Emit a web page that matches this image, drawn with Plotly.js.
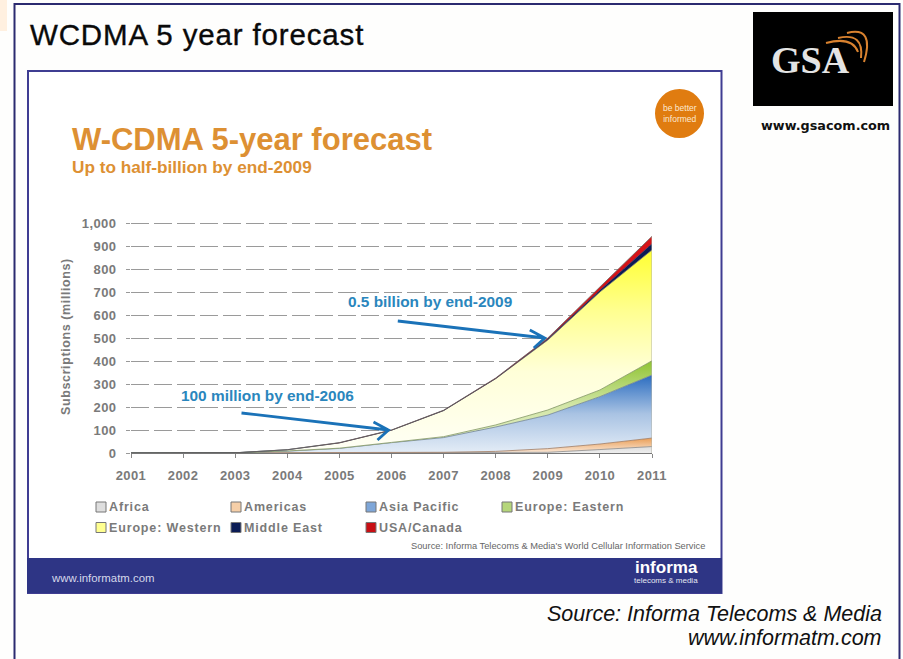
<!DOCTYPE html>
<html>
<head>
<meta charset="utf-8">
<script src="https://cdn.plot.ly/plotly-3.0.1.min.js"></script>
<style>
html,body{margin:0;padding:0;background:#fefefd;}
#chart{width:903px;height:659px;}
.xtick text,.ytick text{letter-spacing:.4px;}
.ytitle{letter-spacing:.6px;}
.gtitle{letter-spacing:.85px;stroke:#0a0a0a;stroke-width:.35px;}
</style>
</head>
<body>
<div id="chart"></div>
<script>
// Subscriptions in millions, per region, stacked bottom to top
const years = [2001,2002,2003,2004,2005,2006,2007,2008,2009,2010,2011];
const africa       = [0,0,0,0,0,0,0.5,1,3,15,28];
const americas     = [0,0,0,0.5,1,1.5,2.5,6,16,24,37];
const asiaPacific  = [0,0,1,7.5,19,43.5,64,106,146,206,274];
const europeEast   = [0,0,0,1,1,1,4,9,22,29,62];
const europeWest   = [0,0,0,5,23,53,113,201,304,426,482];
const middleEast   = [0,0,0,0,0,0,1,1,5,8,27];
const usaCanada    = [0,0,0,0.5,1,1,1,2,4,14,32];

const seriesNames = ['Africa','Americas','Asia Pacific','Europe: Eastern','Europe: Western','Middle East','USA/Canada'];
const seriesValues = [africa,americas,asiaPacific,europeEast,europeWest,middleEast,usaCanada];
const seriesTop = [30,70,340,410,885,910,945];
const gradientStops = [
  [[0,'#eeeeee'],[1,'#dcdcdc']],
  [[0,'#fbeadb'],[1,'#e8984c']],
  [[0,'#e4edf7'],[0.5,'#a9c3e3'],[1,'#2a6cc0']],
  [[0,'#e4f0c8'],[0.5,'#d3e6a8'],[1,'#8cc22c']],
  [[0,'#fffff6'],[0.4,'#ffffd8'],[0.7,'#ffff90'],[1,'#ffff30']],
  [[0,'#0b1c55'],[1,'#0b1c55']],
  [[0,'#c80f14'],[1,'#d81418']]
];
const swatchFill = ['#dedede','#f6cfa8','#7ea6d8','#b5d67a','#ffff90','#0b1c55','#c80f14'];
const outline = ['#8a8a8a','#a07a60','#6f8296','#7f9460','#77776a','#0b1c55','#6b6560'];

const tickYears = years;
const gridValues = [0,100,200,300,400,500,600,700,800,900,1000];

// Plot rectangle in page pixels; the value axis runs a little past 1,000 so its top gridline is kept
const W = 903, H = 659, L = 131, R = 652, T = 220, B = 453, yMax = (B - T) / 0.23;
const fx = p => (p - L) / (R - L);
const fy = p => (B - p) / (B - T);
const grandTotal = seriesValues.reduce((sum,v) => sum + v[v.length-1], 0);

const traces = seriesNames.map((name,i) => ({
  type:'scatter', mode:'lines', name, x:years, y:seriesValues[i], stackgroup:'regions',
  line:{color:outline[i], width:i===5?0.5:0.8, shape:'linear'},
  fillgradient:{type:'vertical', start:0, stop:seriesTop[i], colorscale:gradientStops[i]},
  hoverinfo:'skip', showlegend:false
}));

function rect(x0,y0,x1,y1,fill,lineColor,lineWidth){
  return {type:'rect', xref:'paper', yref:'paper', x0:fx(x0), x1:fx(x1), y0:fy(y0), y1:fy(y1),
    fillcolor:fill, line:{color:lineColor||fill, width:lineWidth===undefined?0:lineWidth}, layer:'below'};
}
function curve(x0,y0,cx,cy,x1,y1){
  return {type:'path', xref:'paper', yref:'paper',
    path:`M ${fx(x0)} ${fy(y0)} Q ${fx(cx)} ${fy(cy)} ${fx(x1)} ${fy(y1)}`,
    line:{color:'#d9822f', width:2}, layer:'above'};
}
function arrow(x,y,dx,dy){
  // arrow ending on a data point, sized in pixels from that point
  return {type:'path', xref:'x', yref:'y', xsizemode:'pixel', ysizemode:'pixel', xanchor:x, yanchor:y,
    path:`M ${dx} ${dy} L -3 0 M -18 8 L -3 0 L -14 -10`,
    line:{color:'#1a72b8', width:2.8}, layer:'above'};
}
function text(str,x,y,size,color,opts){
  return Object.assign({xref:'paper', yref:'paper', x:fx(x), y:fy(y), text:str, showarrow:false,
    xanchor:'left', yanchor:'middle', align:'left',
    font:{family:'"Liberation Sans", Arial, sans-serif', size, color}}, opts||{});
}
const bold = s => '<b>'+s+'</b>';

// Legend laid out as four columns, two rows
const legendCols = [96,231,366,502];
const legendRows = [507,527.5];
const legendShapes = [], legendText = [];
seriesNames.forEach((name,i) => {
  const cx = legendCols[i%4], cy = legendRows[Math.floor(i/4)];
  legendShapes.push(rect(cx,cy-5,cx+10,cy+5,swatchFill[i],'#777777',1));
  legendText.push(text(bold(name),cx+11,cy,12.5,'#7a7a7a'));
});

const layout = {
  width:W, height:H, margin:{l:L, r:W-R, t:T, b:H-B}, showlegend:false,
  paper_bgcolor:'#fefefd', plot_bgcolor:'rgba(0,0,0,0)',
  font:{family:'"Liberation Sans", Arial, sans-serif'},
  title:{text:'WCDMA 5 year forecast', xref:'container', yref:'container', x:30/W, xanchor:'left',
    y:1-35/H, yanchor:'middle', font:{size:29.5, color:'#0a0a0a', family:'"Liberation Sans", Arial, sans-serif'}},
  xaxis:{range:[2001,2011], tickvals:tickYears, ticks:'outside', ticklen:4, tickcolor:'#888', tickwidth:1,
    ticklabelstandoff:6, showgrid:false, zeroline:false, showline:true, linecolor:'#777', linewidth:1,
    tickfont:{size:13, color:'#7a7a7a', family:'"Liberation Sans", Arial, sans-serif', weight:'bold'}},
  yaxis:{range:[0,yMax], tickvals:gridValues, tickformat:',', ticks:'outside', ticklen:4, tickcolor:'#999', tickwidth:1,
    ticklabelstandoff:7, showgrid:true, gridcolor:'#9a9a9a', gridwidth:1, griddash:'18px,5px', zeroline:false, showline:false,
    tickfont:{size:13, color:'#7a7a7a', family:'"Liberation Sans", Arial, sans-serif', weight:'bold'},
    title:{text:'Subscriptions (millions)', standoff:8, font:{size:12.5, color:'#7a7a7a', weight:'bold'}}},
  shapes:[
    rect(0,0,7,31,'#fff0e0'),
    rect(14.5,4,899.5,H+6,'#fefefd','#2b2a70',2),
    rect(28,71,721.5,593,'#ffffff','#3f3d92',2),
    rect(27,558,722,593,'#2e3585'),
    rect(753,12,893,106,'#000000'),
    {type:'circle', xref:'paper', yref:'paper', x0:fx(655), x1:fx(704), y0:fy(89), y1:fy(138),
     fillcolor:'#e07c10', line:{width:0}, layer:'below'},
    curve(826,43,852,36,858,52),
    curve(838,38,864,32,861,58),
    curve(847,33,875,26,864,62),
    {type:'line', xref:'x', yref:'y', x0:2011, x1:2011, y0:0, y1:grandTotal, line:{color:'#b5b5a8', width:1}, layer:'above'},
    arrow(2006,100,-150,17),
    arrow(2009,500,-150,17),
    ...legendShapes
  ],
  annotations:[
    text(bold('W-CDMA 5-year forecast'),70,139,31,'#dd9033'),
    text(bold('Up to half-billion by end-2009'),70,167,17.2,'#dd9033'),
    text('be better<br>informed',679.5,113,8.5,'#fde9d2',{xanchor:'center',align:'center'}),
    text('<b>GSA</b>',769,60,38,'#e4e4e4',{font:{family:'"Liberation Serif", serif',size:38,color:'#e4e4e4'}}),
    text(bold('www.gsacom.com'),759,125,12.8,'#111111',{font:{family:'"DejaVu Sans", sans-serif',size:12.8,color:'#111111'}}),
    text(bold('0.5 billion by end-2009'),346,301,15.4,'#2a86bd'),
    text(bold('100 million by end-2006'),179,395,15.4,'#2a86bd'),
    text("Source: Informa Telecoms &amp; Media's World Cellular Information Service",707,546,9.3,'#666666',{xanchor:'right',align:'right'}),
    text('www.informatm.com',49,578,11.4,'#d5d8ea'),
    text(bold('informa'),700,567,17,'#ffffff',{xanchor:'right',align:'right'}),
    text('telecoms &amp; media',700,580,8,'#e4e6f2',{xanchor:'right',align:'right'}),
    text('<i>Source: Informa Telecoms &amp; Media</i>',884,614,21.5,'#111111',{xanchor:'right',align:'right'}),
    text('<i>www.informatm.com</i>',884,638,21.5,'#111111',{xanchor:'right',align:'right'}),
    ...legendText
  ]
};

Plotly.newPlot('chart', traces, layout, {displayModeBar:false, staticPlot:true}).then(() => {
  // wider tracking on the legend labels
  document.querySelectorAll('.annotation-text').forEach(el => {
    if (seriesNames.includes(el.textContent)) el.style.letterSpacing = '.85px';
  });
});
</script>
</body>
</html>
